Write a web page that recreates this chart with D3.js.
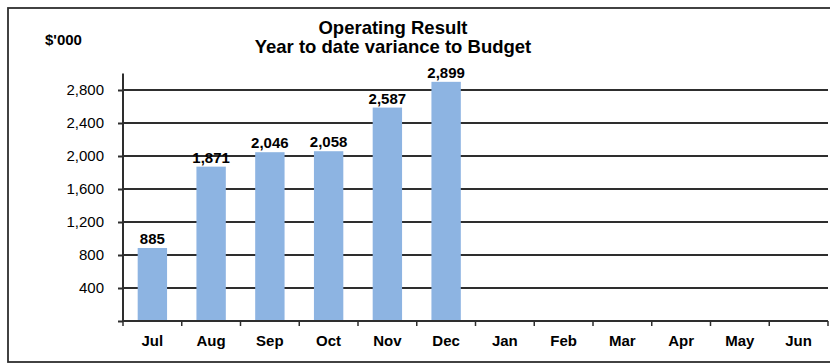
<!DOCTYPE html>
<html><head><meta charset="utf-8">
<script src="https://cdn.jsdelivr.net/npm/d3@7"></script>
<style>body{margin:0;background:#fff}svg{display:block;font-family:"Liberation Sans",Arial,sans-serif}</style>
</head><body>
<svg id="c" width="830" height="363"></svg>
<script>
const months = ["Jul","Aug","Sep","Oct","Nov","Dec","Jan","Feb","Mar","Apr","May","Jun"];
const values = [885, 1871, 2046, 2058, 2587, 2899, null, null, null, null, null, null];
const yTicks = [400, 800, 1200, 1600, 2000, 2400, 2800];
const titleLines = ["Operating Result", "Year to date variance to Budget"];
const unitLabel = "$'000";

(function(){
const svg = d3.select("#c");
const pL = 123, pR = 828, pT = 73.5, pB = 321;
const x = d3.scaleBand().domain(months).range([pL, pR]).paddingInner(0.5).paddingOuter(0.25);
const xb = d3.scaleBand().domain(months).range([pL, pR]);
const y = d3.scaleLinear().domain([0, 3000]).range([pB, pT]);
const ink = "#2e2e2e";

// frame
svg.append("rect").attr("x", 8).attr("y", 8).attr("width", 830).attr("height", 354)
  .attr("fill", "none").attr("stroke", ink).attr("stroke-width", 1.8);

// gridlines
svg.append("g").selectAll("line").data(yTicks).join("line")
  .attr("x1", pL).attr("x2", pR)
  .attr("y1", d => y(d)).attr("y2", d => y(d))
  .attr("stroke", ink).attr("stroke-width", 2);

// bars
const data = months.map((m, i) => ({m, v: values[i]})).filter(d => d.v != null);
svg.append("g").selectAll("rect").data(data).join("rect")
  .attr("x", d => x(d.m)).attr("width", x.bandwidth())
  .attr("y", d => y(d.v)).attr("height", d => y(0) - y(d.v))
  .attr("fill", "#8DB4E2");

// value labels
svg.append("g").selectAll("text").data(data).join("text")
  .attr("x", d => x(d.m) + x.bandwidth() / 2).attr("y", d => y(d.v) - 4)
  .attr("text-anchor", "middle").attr("font-size", 15).attr("font-weight", "bold").attr("fill", "#000")
  .text(d => d3.format(",")(d.v));

// y axis
const yAxis = d3.axisLeft(y).tickValues([0, ...yTicks]).tickSize(5).tickPadding(14).tickFormat(d => d === 0 ? "" : d3.format(",")(d));
const gy = svg.append("g").attr("transform", `translate(${pL},0)`).call(yAxis);
gy.select(".domain").attr("stroke", ink).attr("stroke-width", 2).attr("d", `M0,${pT}V${pB}`);
gy.selectAll(".tick line").attr("stroke", ink).attr("stroke-width", 2);
gy.selectAll(".tick text").attr("font-size", 15).attr("fill", "#000").attr("font-family", "Liberation Sans, Arial, sans-serif");

// x axis
svg.append("line").attr("x1", pL).attr("x2", pR).attr("y1", pB).attr("y2", pB)
  .attr("stroke", ink).attr("stroke-width", 2);
const bounds = months.map(m => xb(m)).concat([pR]);
svg.append("g").selectAll("line").data(bounds).join("line")
  .attr("x1", d => d).attr("x2", d => d).attr("y1", pB).attr("y2", pB + 5)
  .attr("stroke", ink).attr("stroke-width", 1.5);
svg.append("g").selectAll("text").data(months).join("text")
  .attr("x", d => xb(d) + xb.bandwidth() / 2).attr("y", 346)
  .attr("text-anchor", "middle").attr("font-size", 15).attr("font-weight", "bold").attr("fill", "#000")
  .text(d => d);

// titles
svg.append("g").selectAll("text").data(titleLines).join("text")
  .attr("x", 393).attr("y", (d, i) => 34 + i * 19)
  .attr("text-anchor", "middle").attr("font-size", 18.5).attr("font-weight", "bold").attr("fill", "#000")
  .text(d => d);
svg.append("text").attr("x", 45).attr("y", 45).attr("font-size", 15).attr("font-weight", "bold").attr("fill", "#000").text(unitLabel);
})();
</script>
</body></html>
